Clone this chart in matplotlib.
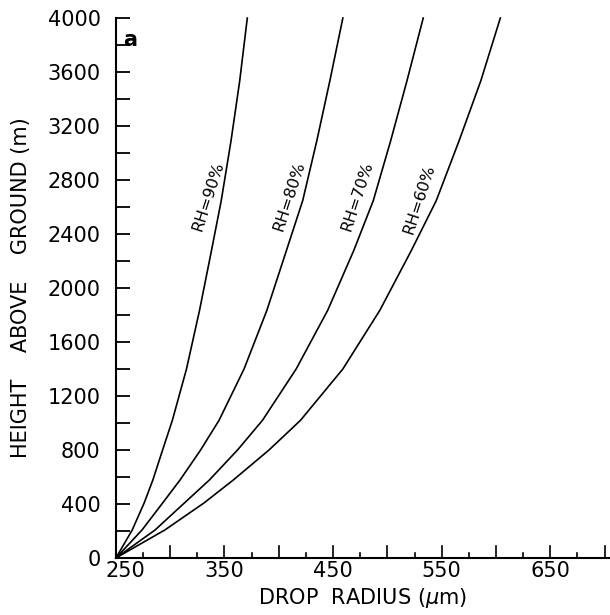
import matplotlib.pyplot as plt
import matplotlib.transforms as mtransforms
import numpy as np

# heights above ground (m) where the curves were read
heights = [0, 207, 407, 577, 800, 1020, 1400, 1834, 2277, 2647, 3090, 3534, 4000]

# drop radius (um) for each relative humidity
rh90 = [250, 265, 276, 284, 293, 302, 315, 327, 338, 347, 356, 364, 371]
rh80 = [250, 274, 293, 309, 328, 345, 368, 389, 407, 422, 435, 447, 459]
rh70 = [250, 286, 313, 336, 362, 385, 416, 445, 469, 487, 503, 518, 533]
rh60 = [250, 295, 331, 358, 391, 420, 459, 493, 522, 545, 566, 586, 604]

curve_labels = ["RH=90%", "RH=80%", "RH=70%", "RH=60%"]
# where each curve label sits (radius, height)
label_pos = [(335, 2680), (410, 2680), (472, 2680), (529, 2660)]

x_ticks = [250, 350, 450, 550, 650]
y_ticks = [0, 400, 800, 1200, 1600, 2000, 2400, 2800, 3200, 3600, 4000]

plt.rcParams.update({
    'font.family': 'DejaVu Sans',
    'font.size': 15,
})

fig = plt.figure(figsize=(6.1, 6.15), dpi=100)
ax = fig.add_axes([0.190, 0.0927, 0.810, 0.878])

for radius in [rh90, rh80, rh70, rh60]:
    ax.plot(radius, heights, color='black', lw=1.2, clip_on=False)

for txt, (x, y) in zip(curve_labels, label_pos):
    ax.text(x, y, txt, rotation=72, ha='center', va='center', fontsize=11.5)

ax.text(0.015, 0.978, "a", transform=ax.transAxes, fontsize=15,
        fontweight='bold', ha='left', va='top')

ax.set_xlim(250, 705)
ax.set_ylim(0, 4000)

ax.set_xticks(x_ticks)
ax.set_yticks(y_ticks)
ax.set_yticks(np.arange(200, 4000, 400), minor=True)

ax.tick_params(axis='y', which='both', direction='in', length=10, width=1.3, pad=11)
ax.tick_params(axis='x', which='major', direction='in', length=0, pad=2)

# nudge the first x label right, as in the original
shift = mtransforms.ScaledTranslation(9 / 100, 0, fig.dpi_scale_trans)
first = ax.get_xticklabels()[0]
first.set_transform(first.get_transform() + shift)

# x ticks: tall every 50, short every 25
for v in np.arange(275, 705, 25):
    ax.plot([v, v], [0, 90 if v % 50 == 0 else 35], color='black', lw=1.2,
            clip_on=False)

ax.spines['top'].set_visible(False)
ax.spines['right'].set_visible(False)
ax.spines['left'].set_linewidth(1.5)
ax.spines['bottom'].set_linewidth(1.5)

ax.set_xlabel(r"DROP  RADIUS ($\mu$m)", labelpad=4)
ax.set_ylabel("HEIGHT    ABOVE    GROUND (m)", labelpad=12)

fig.savefig("out.png", dpi=100)
